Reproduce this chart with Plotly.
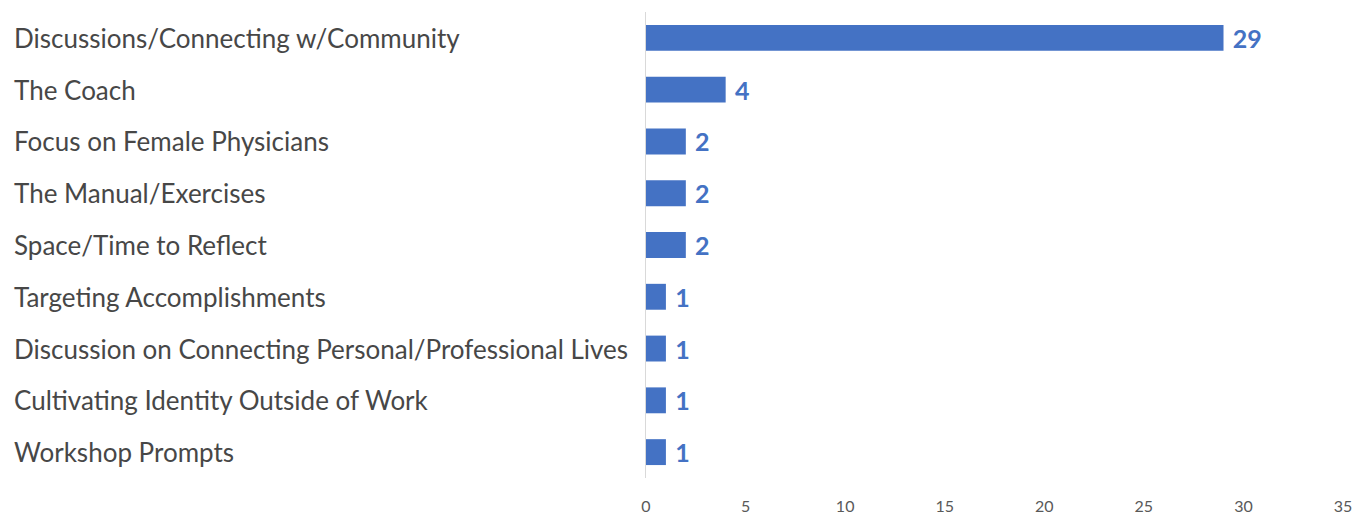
import plotly.graph_objects as go

categories = [
    "Discussions/Connecting w/Community",
    "The Coach",
    "Focus on Female Physicians",
    "The Manual/Exercises",
    "Space/Time to Reflect",
    "Targeting Accomplishments",
    "Discussion on Connecting Personal/Professional Lives",
    "Cultivating Identity Outside of Work",
    "Workshop Prompts",
]
counts = [29, 4, 2, 2, 2, 1, 1, 1, 1]
x_ticks = [0, 5, 10, 15, 20, 25, 30, 35]

W, H = 1369, 519
ML, MR, MT, MB = 646, 26, 12, 41
plot_w = W - ML - MR

BAR = "#4472C4"
FONT = "Lato, 'Open Sans', sans-serif"

fig = go.Figure(
    go.Bar(
        x=counts,
        y=categories,
        orientation="h",
        marker=dict(color=BAR, line=dict(width=0)),
        text=[f"\u2009\u2009{v}" for v in counts],
        textposition="outside",
        constraintext="none",
        cliponaxis=False,
        textfont=dict(family=FONT, size=25, color=BAR, weight="bold"),
        width=0.5,
        hoverinfo="skip",
    )
)

# left-aligned category labels
for c in categories:
    fig.add_annotation(
        x=-(ML - 12) / plot_w, xref="paper", xanchor="left",
        y=c, yref="y", yanchor="middle",
        text=c, showarrow=False,
        font=dict(family=FONT, size=26, color="#474747"),
    )

fig.update_layout(
    width=W, height=H,
    margin=dict(l=ML, r=MR, t=MT, b=MB, autoexpand=False),
    plot_bgcolor="white", paper_bgcolor="white",
    showlegend=False,
    xaxis=dict(
        range=[0, 35], tickvals=x_ticks, showgrid=False, zeroline=False,
        showline=False, ticks="", ticklabelstandoff=17, automargin=False,
        tickfont=dict(family=FONT, size=16, color="#595959"),
        fixedrange=True,
    ),
    yaxis=dict(
        autorange="reversed", showticklabels=False, showgrid=False,
        showline=True, linecolor="#d9d9d9", linewidth=1, zeroline=False,
        automargin=False, fixedrange=True,
    ),
)

fig.write_html("out.html")
